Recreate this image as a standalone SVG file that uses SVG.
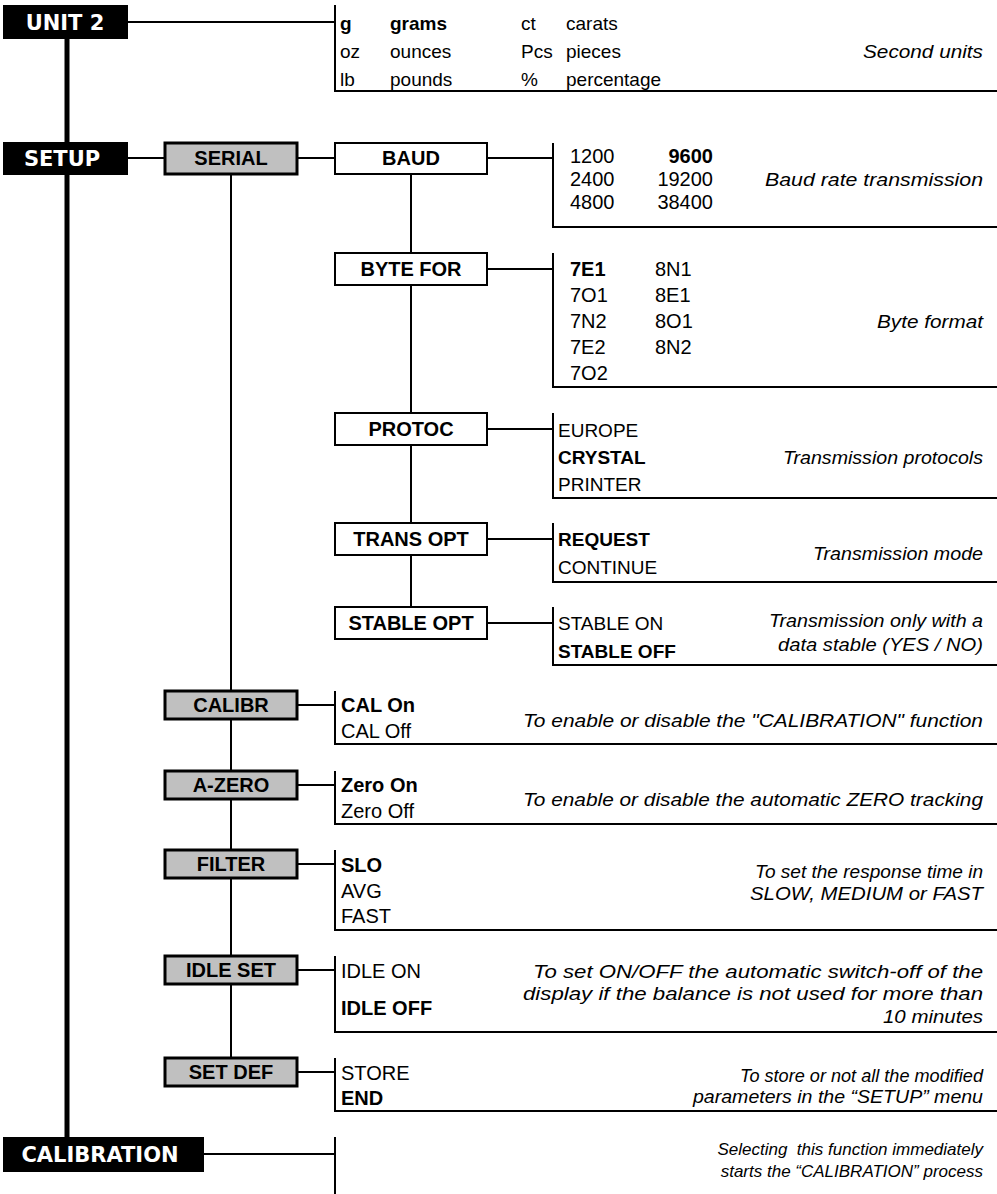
<svg xmlns="http://www.w3.org/2000/svg" width="997" height="1194" viewBox="0 0 997 1194">
<style>
text{font-family:"Liberation Sans",Arial,sans-serif;font-size:19px;fill:#000}
.b{font-weight:bold}
.d{font-style:italic;text-anchor:end;font-size:18px}
.s{font-size:17px}
.e{text-anchor:end}
.n{font-size:20px}
.lbl{font-weight:bold;font-size:20px;text-anchor:middle}
.blk{font-family:"DejaVu Sans",sans-serif;font-weight:bold;font-size:21px;fill:#fff;text-anchor:middle}
.ln{stroke:#000;stroke-width:2;fill:none}
.main{stroke:#000;stroke-width:5;fill:none}
.gray{fill:#c0c0c0;stroke:#000;stroke-width:3}
.white{fill:#fff;stroke:#000;stroke-width:2}
.black{fill:#000}
</style>
<rect width="997" height="1194" fill="#fff"/>
<g id="connectors">
<line class="main" x1="67" y1="39" x2="67" y2="1137"/>
<line class="ln" x1="231" y1="175" x2="231" y2="1058"/>
<line class="ln" x1="411" y1="174" x2="411" y2="607"/>
<line class="ln" x1="128" y1="22" x2="335" y2="22"/>
<line class="ln" x1="128" y1="158" x2="165" y2="158"/>
<line class="ln" x1="297" y1="158" x2="335" y2="158"/>
<line class="ln" x1="487" y1="158" x2="553" y2="158"/>
<line class="ln" x1="487" y1="269" x2="553" y2="269"/>
<line class="ln" x1="487" y1="429" x2="553" y2="429"/>
<line class="ln" x1="487" y1="539" x2="553" y2="539"/>
<line class="ln" x1="487" y1="623" x2="553" y2="623"/>
<line class="ln" x1="297" y1="705" x2="335" y2="705"/>
<line class="ln" x1="297" y1="785" x2="335" y2="785"/>
<line class="ln" x1="297" y1="864" x2="335" y2="864"/>
<line class="ln" x1="297" y1="970" x2="335" y2="970"/>
<line class="ln" x1="297" y1="1072" x2="335" y2="1072"/>
<line class="ln" x1="204" y1="1154" x2="335" y2="1154"/>
</g>
<g id="unit2">
<rect class="black" x="3" y="5" width="125" height="34"/>
<text class="blk" x="65" y="30">UNIT 2</text>
</g>
<g id="unit2-options">
<path class="ln" d="M335,5 V91 H997"/>
<text class="b" x="340" y="30">g</text><text class="b" x="390" y="30">grams</text>
<text x="521" y="30">ct</text><text x="566" y="30">carats</text>
<text x="340" y="58">oz</text><text x="390" y="58">ounces</text>
<text x="521" y="58">Pcs</text><text x="566" y="58">pieces</text>
<text x="340" y="86">lb</text><text x="390" y="86">pounds</text>
<text x="521" y="86">%</text><text x="566" y="86">percentage</text>
<text class="d" x="983" y="58" textLength="120" lengthAdjust="spacingAndGlyphs">Second units</text>
</g>
<g id="setup">
<rect class="black" x="3" y="142" width="125" height="33"/>
<text class="blk" x="62" y="166">SETUP</text>
</g>
<g id="serial">
<rect class="gray" x="165" y="143" width="132" height="31"/>
<text class="lbl" x="231" y="165">SERIAL</text>
</g>
<g id="baud">
<rect class="white" x="335" y="143" width="152" height="31"/>
<text class="lbl" x="411" y="165">BAUD</text>
<path class="ln" d="M553,143 V227 H997"/>
<text class="n" x="570" y="163">1200</text><text class="n b e" x="713" y="163">9600</text>
<text class="n" x="570" y="186">2400</text><text class="n e" x="713" y="186">19200</text>
<text class="n" x="570" y="209">4800</text><text class="n e" x="713" y="209">38400</text>
<text class="d" x="983" y="186" textLength="218" lengthAdjust="spacingAndGlyphs">Baud rate transmission</text>
</g>
<g id="bytefor">
<rect class="white" x="335" y="253" width="152" height="32"/>
<text class="lbl" x="411" y="276">BYTE FOR</text>
<path class="ln" d="M553,253 V387 H997"/>
<text class="n b" x="570" y="276">7E1</text><text class="n" x="655" y="276">8N1</text>
<text class="n" x="570" y="302">7O1</text><text class="n" x="655" y="302">8E1</text>
<text class="n" x="570" y="328">7N2</text><text class="n" x="655" y="328">8O1</text>
<text class="n" x="570" y="354">7E2</text><text class="n" x="655" y="354">8N2</text>
<text class="n" x="570" y="380">7O2</text>
<text class="d" x="983" y="328" textLength="106" lengthAdjust="spacingAndGlyphs">Byte format</text>
</g>
<g id="protoc">
<rect class="white" x="335" y="413" width="152" height="32"/>
<text class="lbl" x="411" y="436">PROTOC</text>
<path class="ln" d="M553,413 V498 H997"/>
<text x="558" y="437">EUROPE</text>
<text class="b" x="558" y="464">CRYSTAL</text>
<text x="558" y="491">PRINTER</text>
<text class="d" x="983" y="464" textLength="200" lengthAdjust="spacingAndGlyphs">Transmission protocols</text>
</g>
<g id="transopt">
<rect class="white" x="335" y="523" width="152" height="32"/>
<text class="lbl" x="411" y="546">TRANS OPT</text>
<path class="ln" d="M553,523 V582 H997"/>
<text class="b" x="558" y="546">REQUEST</text>
<text x="558" y="574">CONTINUE</text>
<text class="d" x="983" y="560" textLength="170" lengthAdjust="spacingAndGlyphs">Transmission mode</text>
</g>
<g id="stableopt">
<rect class="white" x="335" y="607" width="152" height="32"/>
<text class="lbl" x="411" y="630">STABLE OPT</text>
<path class="ln" d="M553,607 V665 H997"/>
<text x="558" y="630">STABLE ON</text>
<text class="b" x="558" y="658">STABLE OFF</text>
<text class="d" x="983" y="627" textLength="214" lengthAdjust="spacingAndGlyphs">Transmission only with a</text>
<text class="d" x="983" y="651" textLength="205" lengthAdjust="spacingAndGlyphs">data stable (YES / NO)</text>
</g>
<g id="calibr">
<rect class="gray" x="165" y="691" width="132" height="28"/>
<text class="lbl" x="231" y="712">CALIBR</text>
<path class="ln" d="M335,691 V744 H997"/>
<text class="n b" x="341" y="712">CAL On</text>
<text class="n" x="341" y="738">CAL Off</text>
<text class="d" x="983" y="727" textLength="460" lengthAdjust="spacingAndGlyphs">To enable or disable the "CALIBRATION" function</text>
</g>
<g id="azero">
<rect class="gray" x="165" y="771" width="132" height="28"/>
<text class="lbl" x="231" y="792">A-ZERO</text>
<path class="ln" d="M335,771 V824 H997"/>
<text class="n b" x="341" y="792">Zero On</text>
<text class="n" x="341" y="818">Zero Off</text>
<text class="d" x="983" y="806" textLength="460" lengthAdjust="spacingAndGlyphs">To enable or disable the automatic ZERO tracking</text>
</g>
<g id="filter">
<rect class="gray" x="165" y="850" width="132" height="28"/>
<text class="lbl" x="231" y="871">FILTER</text>
<path class="ln" d="M335,850 V930 H997"/>
<text class="n b" x="341" y="872">SLO</text>
<text class="n" x="341" y="898">AVG</text>
<text class="n" x="341" y="923">FAST</text>
<text class="d" x="983" y="878" textLength="228" lengthAdjust="spacingAndGlyphs">To set the response time in</text>
<text class="d" x="983" y="900" textLength="233" lengthAdjust="spacingAndGlyphs">SLOW, MEDIUM or FAST</text>
</g>
<g id="idleset">
<rect class="gray" x="165" y="956" width="132" height="28"/>
<text class="lbl" x="231" y="977">IDLE SET</text>
<path class="ln" d="M335,956 V1032 H997"/>
<text class="n" x="341" y="978">IDLE ON</text>
<text class="n b" x="341" y="1015">IDLE OFF</text>
<text class="d" x="983" y="978" textLength="450" lengthAdjust="spacingAndGlyphs">To set ON/OFF the automatic switch-off of the</text>
<text class="d" x="983" y="1000" textLength="460" lengthAdjust="spacingAndGlyphs">display if the balance is not used for more than</text>
<text class="d" x="983" y="1023" textLength="100" lengthAdjust="spacingAndGlyphs">10 minutes</text>
</g>
<g id="setdef">
<rect class="gray" x="165" y="1058" width="132" height="28"/>
<text class="lbl" x="231" y="1079">SET DEF</text>
<path class="ln" d="M335,1058 V1111 H997"/>
<text class="n" x="341" y="1080">STORE</text>
<text class="n b" x="341" y="1105">END</text>
<text class="d" x="983" y="1082" textLength="243" lengthAdjust="spacingAndGlyphs">To store or not all the modified</text>
<text class="d" x="983" y="1103" textLength="290" lengthAdjust="spacingAndGlyphs">parameters in the “SETUP” menu</text>
</g>
<g id="calibration">
<rect class="black" x="3" y="1137" width="201" height="35"/>
<text class="blk" x="100" y="1162">CALIBRATION</text>
<line class="ln" x1="335" y1="1137" x2="335" y2="1194"/>
<text class="d s" x="983" y="1155" xml:space="preserve">Selecting  this function immediately</text>
<text class="d s" x="983" y="1177">starts the “CALIBRATION” process</text>
</g>
</svg>
